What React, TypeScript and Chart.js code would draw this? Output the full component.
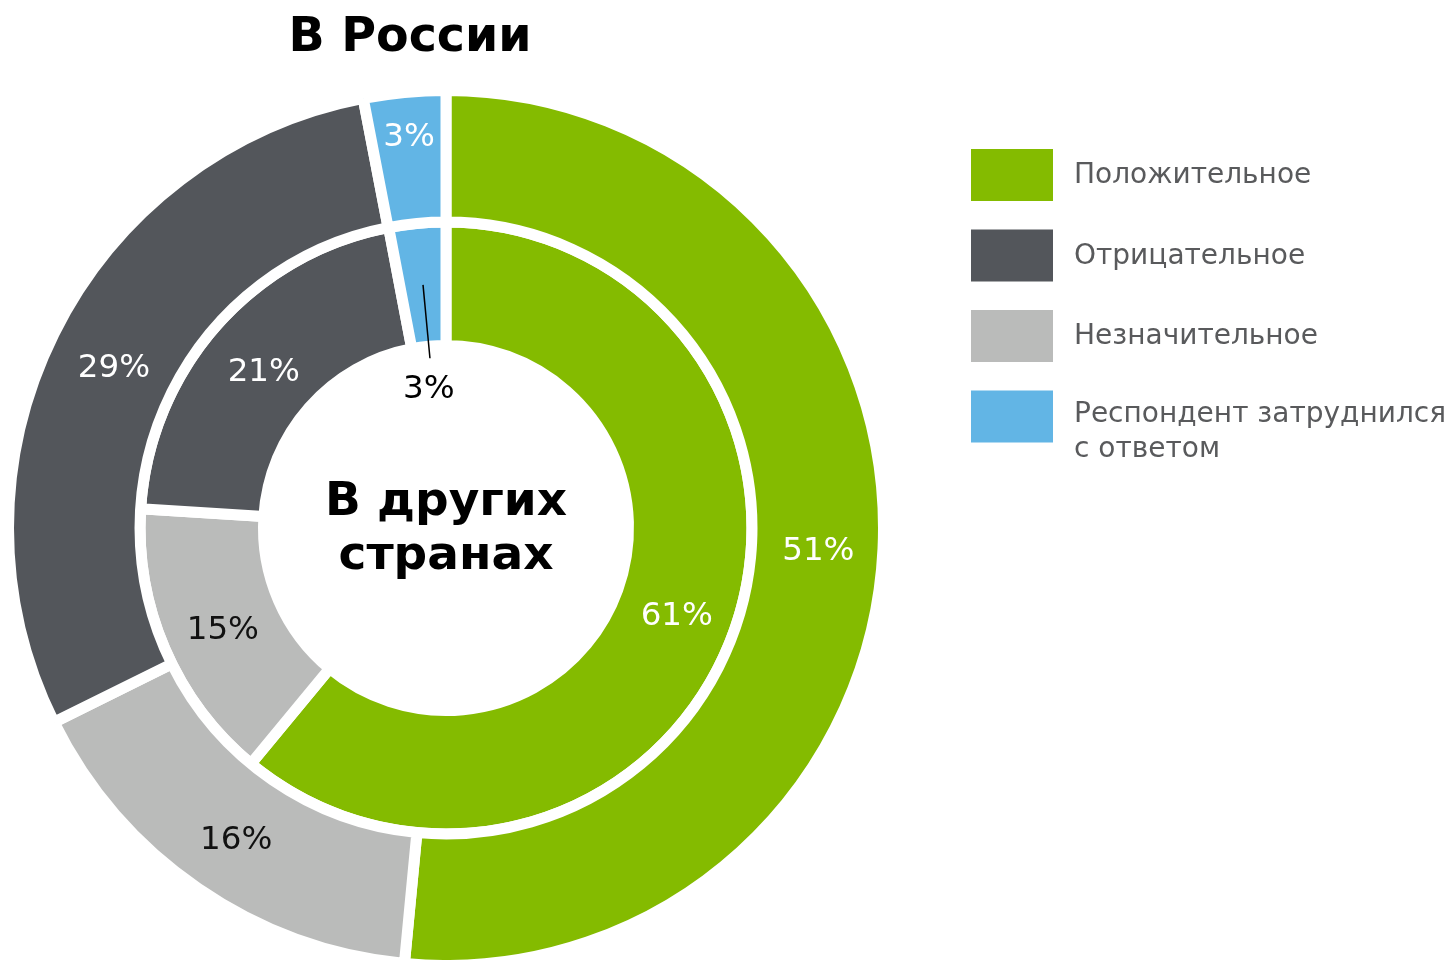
import React, { useEffect, useRef } from "react";
import { Chart, registerables } from "chart.js";

Chart.register(...registerables);

const categories = [
  "Положительное",
  "Отрицательное",
  "Незначительное",
  "Респондент затруднился с ответом",
];
const legendLines = [
  ["Положительное"],
  ["Отрицательное"],
  ["Незначительное"],
  ["Респондент затруднился", "с ответом"],
];
const russiaValues = [51, 29, 16, 3];
const otherCountriesValues = [61, 21, 15, 3];
const colors = ["#84BB00", "#53565B", "#BABBBA", "#62B5E5"];
const labelColors = ["#FFFFFF", "#FFFFFF", "#111111", "#FFFFFF"];
// order of slices clockwise from 12 o'clock
const drawOrder = [0, 2, 1, 3];
const titleText = "В России";
const centerLines = ["В других", "странах"];

const FONT = "'DejaVu Sans', Verdana, sans-serif";

const overlayPlugin = {
  id: "overlay",
  afterDatasetsDraw(chart: any) {
    const ctx = chart.ctx;
    ctx.save();
    // slice labels
    chart.data.datasets.forEach((ds: any, di: number) => {
      const meta = chart.getDatasetMeta(di);
      meta.data.forEach((arc: any, i: number) => {
        const p = arc.getProps(["x", "y", "startAngle", "endAngle", "innerRadius", "outerRadius"], true);
        const mid = (p.startAngle + p.endAngle) / 2;
        const cat = drawOrder[i];
        const text = ds.data[i] + "%";
        ctx.font = `32.5px ${FONT}`;
        ctx.textAlign = "center";
        ctx.textBaseline = "middle";
        if (di === 1 && cat === 3) {
          // small inner slice: label outside with leader line
          const r0 = (p.innerRadius + p.outerRadius) / 2;
          const r1 = p.innerRadius - 12;
          ctx.strokeStyle = "#000";
          ctx.lineWidth = 1.5;
          ctx.beginPath();
          ctx.moveTo(p.x + Math.cos(mid) * r0, p.y + Math.sin(mid) * r0);
          ctx.lineTo(p.x + Math.cos(mid) * r1, p.y + Math.sin(mid) * r1);
          ctx.stroke();
          const rt = p.innerRadius - 42;
          ctx.fillStyle = "#000";
          ctx.fillText(text, p.x + Math.cos(mid) * rt - 4, p.y + Math.sin(mid) * rt + 1);
          return;
        }
        let r = (p.innerRadius + p.outerRadius) / 2;
        if (di === 0 && cat === 3) r = p.outerRadius - 39;
        ctx.fillStyle = labelColors[cat];
        ctx.fillText(text, p.x + Math.cos(mid) * r + 1, p.y + Math.sin(mid) * r + 6);
      });
    });

    // center text
    const m = chart.getDatasetMeta(0).data[0];
    const cx = m.x;
    const cy = m.y;
    ctx.fillStyle = "#000";
    ctx.font = `bold 47px ${FONT}`;
    ctx.textAlign = "center";
    ctx.textBaseline = "alphabetic";
    ctx.fillText(centerLines[0], cx, cy - 13);
    ctx.fillText(centerLines[1], cx, cy + 41);

    // title
    ctx.font = `bold 47.5px ${FONT}`;
    ctx.fillText(titleText, 410, 51);

    // legend
    const lx = 971;
    const ly = 149;
    const step = 80.5;
    categories.forEach((c, i) => {
      const top = ly + i * step;
      ctx.fillStyle = colors[i];
      ctx.fillRect(lx, top, 82, 52);
      ctx.fillStyle = "#595A5C";
      ctx.font = `28px ${FONT}`;
      ctx.textAlign = "left";
      ctx.textBaseline = "middle";
      const lines = legendLines[i];
      if (lines.length === 1) {
        ctx.fillText(lines[0], 1074, top + 27);
      } else {
        ctx.fillText(lines[0], 1074, top + 24);
        ctx.fillText(lines[1], 1074, top + 59);
      }
    });
    ctx.restore();
  },
};

export default function App() {
  const ref = useRef<HTMLCanvasElement | null>(null);
  useEffect(() => {
    document.body.style.margin = "0";
    const canvas = ref.current;
    if (!canvas) return;
    const chart = new Chart(canvas, {
      type: "doughnut",
      data: {
        labels: drawOrder.map((i) => categories[i]),
        datasets: [
          {
            label: "В России",
            data: drawOrder.map((i) => russiaValues[i]),
            backgroundColor: drawOrder.map((i) => colors[i]),
            borderColor: "#FFFFFF",
            borderWidth: 11,
            hoverOffset: 0,
            hoverBorderWidth: 11,
            weight: 131,
          },
          {
            label: "В других странах",
            data: drawOrder.map((i) => otherCountriesValues[i]),
            backgroundColor: drawOrder.map((i) => colors[i]),
            borderColor: "#FFFFFF",
            borderWidth: 11,
            hoverOffset: 0,
            hoverBorderWidth: 11,
            weight: 123,
          },
        ],
      },
      options: {
        responsive: false,
        animation: false,
        events: [],
        radius: 437.5,
        cutout: (182.5 / 437.5) * 100 + "%",
        layout: { padding: { left: 14, right: 574, top: 96, bottom: 0 } },
        plugins: {
          legend: { display: false },
          tooltip: { enabled: false },
          title: { display: false },
        },
      },
      plugins: [overlayPlugin],
    });
    return () => chart.destroy();
  }, []);
  return (
    <div style={{ position: "fixed", left: 0, top: 0, width: 1452, height: 960, background: "#fff" }}>
      <canvas ref={ref} width={1452} height={960} style={{ display: "block" }} />
    </div>
  );
}
